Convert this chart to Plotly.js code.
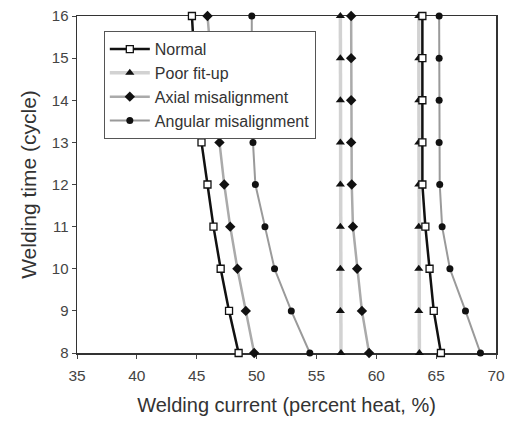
<!DOCTYPE html>
<html>
<head>
<meta charset="utf-8">
<script src="https://cdn.plot.ly/plotly-3.0.1.min.js"></script>
<style>html,body{margin:0;padding:0;background:#fff;}#chart{width:507px;height:426px;}</style>
</head>
<body>
<div id="chart"></div>
<script>
// Welding time (cycles), top to bottom
const times = [16, 15, 14, 13, 12, 11, 10, 9, 8];

// Welding current (percent heat, %)
const normalLow   = [44.6, 44.8, 45.1, 45.4, 45.9, 46.4, 47.0, 47.7, 48.5];
const normalHigh  = [63.85, 63.85, 63.85, 63.85, 63.85, 64.1, 64.45, 64.8, 65.4];
const poorMid     = [57.0, 57.0, 57.0, 57.0, 57.0, 57.0, 57.0, 57.0, 57.05];
const poorHigh    = [63.55, 63.55, 63.55, 63.55, 63.55, 63.55, 63.55, 63.55, 63.6];
const axialLow    = [45.9, 46.2, 46.5, 46.9, 47.3, 47.8, 48.4, 49.1, 49.8];
const axialMid    = [57.9, 57.9, 57.9, 57.9, 57.95, 58.05, 58.4, 58.8, 59.4];
const angularLow  = [49.6, 49.6, 49.6, 49.7, 49.9, 50.7, 51.5, 52.9, 54.45];
const angularHigh = [65.25, 65.25, 65.25, 65.25, 65.3, 65.5, 66.15, 67.45, 68.7];

const seriesNames = ['Normal', 'Poor fit-up', 'Axial misalignment', 'Angular misalignment'];
const xTicks = [35, 40, 45, 50, 55, 60, 65, 70];
const yTicks = [8, 9, 10, 11, 12, 13, 14, 15, 16];

function join(a, b) { return a.concat([null], b); }
const tt = join(times, times);

const traces = [
  {
    name: seriesNames[3], legendrank: 4,
    x: join(angularLow, angularHigh), y: tt, mode: 'lines+markers', cliponaxis: false,
    line: {color: '#9a9a9a', width: 2},
    marker: {symbol: 'circle', size: 7, color: '#111'}
  },
  {
    name: seriesNames[2], legendrank: 3,
    x: join(axialLow, axialMid), y: tt, mode: 'lines+markers', cliponaxis: false,
    line: {color: '#aaaaaa', width: 2.5},
    marker: {symbol: 'diamond', size: 8, color: '#111'}
  },
  {
    name: seriesNames[1], legendrank: 2,
    x: join(poorMid, poorHigh), y: tt, mode: 'lines+markers', cliponaxis: false,
    line: {color: '#d2d2d2', width: 3.5},
    marker: {symbol: 'triangle-up', size: 8, color: '#111'}
  },
  {
    name: seriesNames[0], legendrank: 1,
    x: join(normalLow, normalHigh), y: tt, mode: 'lines+markers', cliponaxis: false,
    line: {color: '#111', width: 2.5},
    marker: {symbol: 'square', size: 7, color: '#fff', line: {color: '#111', width: 1.3}}
  }
];

const font = {family: 'Liberation Sans, Arial, sans-serif', color: '#333'};

const layout = {
  width: 507, height: 426,
  margin: {l: 77, r: 11, t: 16, b: 73},
  paper_bgcolor: '#fff', plot_bgcolor: '#fff',
  font: font,
  showlegend: true,
  legend: {
    x: 0.064, y: 0.955, xanchor: 'left', yanchor: 'top',
    bgcolor: '#fff', bordercolor: '#555', borderwidth: 1,
    font: {family: font.family, size: 16, color: '#333'},
    itemwidth: 40, tracegroupgap: 0
  },
  xaxis: {
    range: [35, 70], tickvals: xTicks, ticktext: xTicks.map(String),
    ticks: 'outside', ticklen: 4, tickcolor: '#444', ticklabelstandoff: 4,
    showline: true, mirror: true, linecolor: '#333', linewidth: 1.5,
    showgrid: false, zeroline: false, layer: 'below traces',
    tickfont: {family: font.family, size: 15.5, color: '#444'},
    title: {text: 'Welding current (percent heat, %)', font: {family: font.family, size: 20, color: '#333'}, standoff: 15}
  },
  yaxis: {
    range: [8, 16], tickvals: yTicks, ticktext: yTicks.map(String),
    ticks: 'outside', ticklen: 4, tickcolor: '#444',
    showline: true, mirror: true, linecolor: '#333', linewidth: 1.5,
    showgrid: false, zeroline: false, layer: 'below traces',
    tickfont: {family: font.family, size: 15, color: '#444'},
    title: {text: 'Welding time (cycle)', font: {family: font.family, size: 21, color: '#333'}, standoff: 9}
  }
};

Plotly.newPlot('chart', traces, layout, {displayModeBar: false, staticPlot: true});
</script>
</body>
</html>
